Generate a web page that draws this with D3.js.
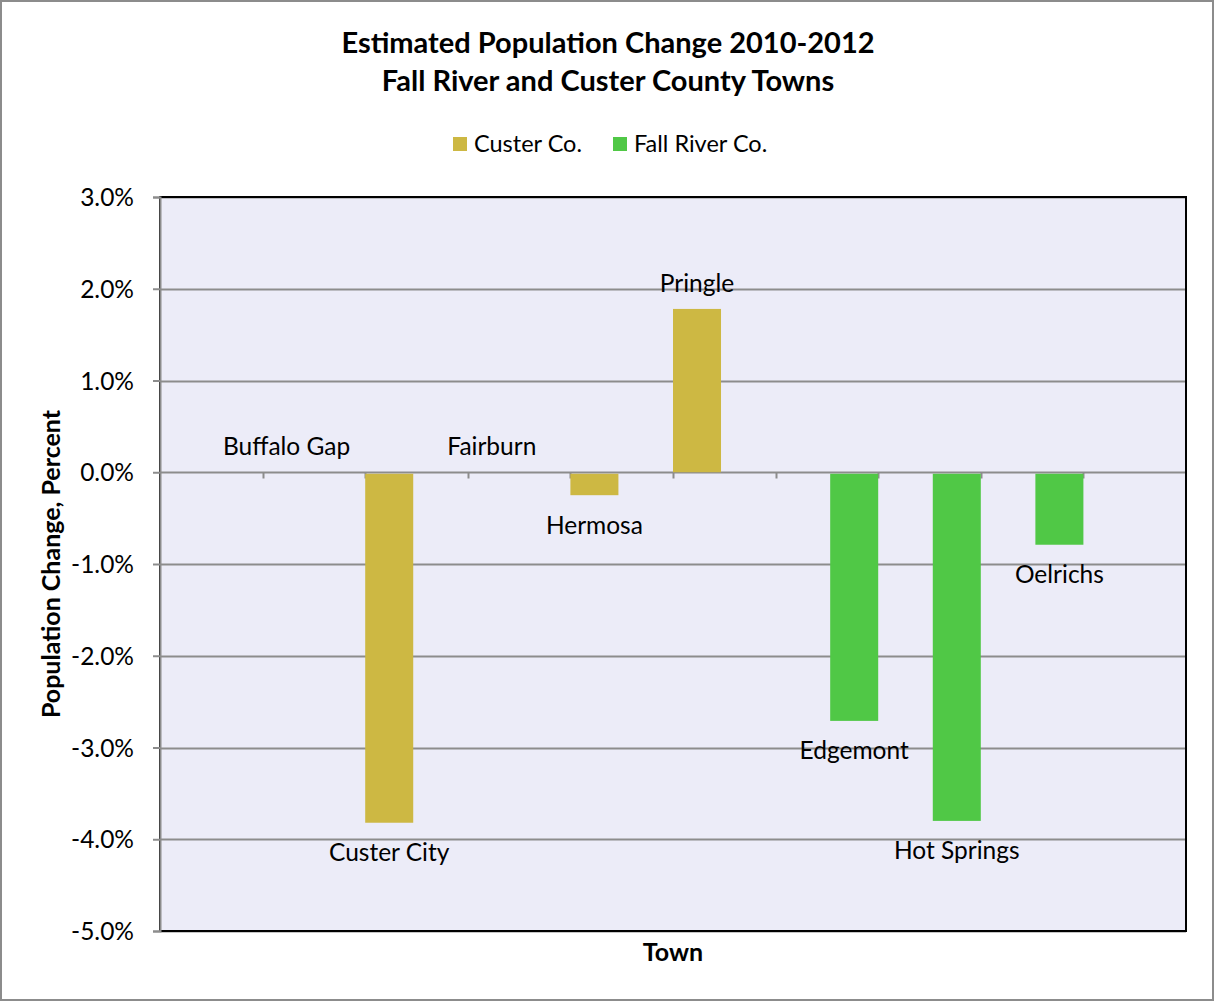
<!DOCTYPE html>
<html>
<head>
<meta charset="utf-8">
<script src="https://cdn.jsdelivr.net/npm/d3@7"></script>
<style>
  html, body { margin: 0; padding: 0; background: #fff; }
  svg { display: block; font-family: Lato, "Open Sans", sans-serif; }
</style>
</head>
<body>
<svg id="chart" width="1214" height="1001"></svg>
<script>
// Town slots along the x axis (the first and last slots are left empty)
const categories = ["", "Buffalo Gap", "Custer City", "Fairburn", "Hermosa", "Pringle",
                    "Edgemont", "Hot Springs", "Oelrichs", ""];
const seriesNames = ["Custer Co.", "Fall River Co."];
// Percent change 2010-2012 per town; null where the town is not in that county
const custerValues = [null, 0, -3.82, 0, -0.25, 1.78, null, null, null, null];
const fallRiverValues = [null, null, null, null, null, null, -2.71, -3.80, -0.79, null];
const yTicks = [3, 2, 1, 0, -1, -2, -3, -4, -5];
const titleLines = ["Estimated Population Change 2010-2012", "Fall River and Custer County Towns"];

const colors = ["#CDB843", "#50C846"];
const W = 1214, H = 1001;
const plot = { left: 160, right: 1186, top: 197, bottom: 931 };
const labelSize = 24.5;

const svg = d3.select("#chart");

// outer chart frame
svg.append("rect").attr("x", 1).attr("y", 1).attr("width", W - 2).attr("height", H - 2)
  .attr("fill", "#fff").attr("stroke", "#8c8c8c").attr("stroke-width", 2);

// titles
svg.selectAll("text.title").data(titleLines).enter().append("text")
  .attr("x", 608).attr("y", (d, i) => 53 + i * 38)
  .attr("text-anchor", "middle").attr("font-weight", "bold").attr("font-size", 29)
  .attr("fill", "#000").text(d => d);

const x = d3.scaleBand().domain(d3.range(categories.length))
  .range([plot.left, plot.right]).paddingInner(0).paddingOuter(0);
const y = d3.scaleLinear().domain([-5, 3]).range([plot.bottom, plot.top]);

// plot background
svg.append("rect").attr("x", plot.left).attr("y", plot.top)
  .attr("width", plot.right - plot.left).attr("height", plot.bottom - plot.top)
  .attr("fill", "#ECECF8");

// horizontal gridlines
svg.append("g").selectAll("line").data(yTicks).enter().append("line")
  .attr("x1", plot.left).attr("x2", plot.right)
  .attr("y1", d => Math.round(y(d)) + 0.5).attr("y2", d => Math.round(y(d)) + 0.5)
  .attr("stroke", "#8c8c8c").attr("stroke-width", 2);

// category tick marks hang below the zero line on slot boundaries
svg.append("g").attr("transform", `translate(0,${Math.round(y(0)) + 0.5})`)
  .selectAll("line").data(d3.range(1, categories.length)).enter().append("line")
  .attr("x1", d => Math.round(x(d)) + 0.5).attr("x2", d => Math.round(x(d)) + 0.5)
  .attr("y1", 0).attr("y2", 6).attr("stroke", "#8c8c8c").attr("stroke-width", 2);

// bars: Custer bar sits on the left of each slot, Fall River bar on the right
const barW = x.bandwidth() * 0.468;
const barData = [];
categories.forEach((c, i) => {
  if (custerValues[i] !== null) barData.push({ i, s: 0, v: custerValues[i], name: c });
  if (fallRiverValues[i] !== null) barData.push({ i, s: 1, v: fallRiverValues[i], name: c });
});
const barX = d => d.s === 0 ? x(d.i) : x(d.i) + x.bandwidth() - barW;

svg.append("g").selectAll("rect").data(barData).enter().append("rect")
  .attr("x", barX).attr("width", barW)
  .attr("y", d => y(Math.max(0, d.v)) + (d.v < 0 ? 1.5 : 0))
  .attr("height", d => Math.max(0, Math.abs(y(d.v) - y(0)) - (d.v < 0 ? 1.5 : 0)))
  .attr("fill", d => colors[d.s]);

// plot area border
svg.append("rect").attr("x", plot.left).attr("y", plot.top)
  .attr("width", plot.right - plot.left).attr("height", plot.bottom - plot.top)
  .attr("fill", "none").attr("stroke", "#000").attr("stroke-width", 2);

// y axis
const yAxis = d3.axisLeft(y).tickValues(yTicks).tickSize(7)
  .tickFormat(d => d.toFixed(1) + "%");
const yAxisG = svg.append("g").attr("transform", `translate(${plot.left},0)`).call(yAxis);
yAxisG.select(".domain").attr("stroke", "#8c8c8c").attr("stroke-width", 2);
yAxisG.selectAll(".tick line").attr("stroke", "#8c8c8c").attr("stroke-width", 2);
yAxisG.selectAll(".tick text").attr("font-size", labelSize).attr("font-family", "Lato, sans-serif")
  .attr("fill", "#000").attr("x", -26).attr("dy", "0.35em");

// data labels (town names) at the end of each bar
svg.append("g").selectAll("text").data(barData).enter().append("text")
  .attr("x", d => barX(d) + barW / 2)
  .attr("y", d => d.v < 0 ? y(d.v) + 30 : y(d.v) - 26)
  .attr("dy", "0.35em")
  .attr("text-anchor", "middle").attr("font-size", labelSize).attr("fill", "#000")
  .text(d => d.name);

// legend
const legendItems = [{ x: 453, name: seriesNames[0], c: colors[0] }, { x: 613, name: seriesNames[1], c: colors[1] }];
const lg = svg.append("g").selectAll("g").data(legendItems).enter().append("g");
lg.append("rect").attr("x", d => d.x).attr("y", 137).attr("width", 14).attr("height", 14).attr("fill", d => d.c);
lg.append("text").attr("x", d => d.x + 21).attr("y", 144).attr("dy", "0.35em")
  .attr("font-size", 23.5).attr("fill", "#000").text(d => d.name);

// axis titles
svg.append("text").attr("transform", `translate(60,${(plot.top + plot.bottom) / 2}) rotate(-90)`)
  .attr("text-anchor", "middle").attr("font-weight", "bold").attr("font-size", 25)
  .text("Population Change, Percent");
svg.append("text").attr("x", (plot.left + plot.right) / 2).attr("y", 961)
  .attr("text-anchor", "middle").attr("font-weight", "bold").attr("font-size", 25)
  .text("Town");
</script>
</body>
</html>
